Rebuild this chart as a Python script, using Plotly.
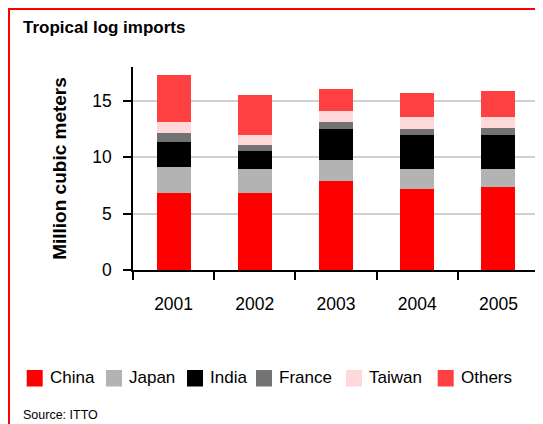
import plotly.graph_objects as go

years = ["2001", "2002", "2003", "2004", "2005"]
china = [6.83, 6.83, 7.90, 7.19, 7.36]
japan = [2.31, 2.13, 1.86, 1.77, 1.60]
india = [2.22, 1.60, 2.75, 3.02, 3.02]
france = [0.80, 0.53, 0.62, 0.53, 0.62]
taiwan = [0.97, 0.89, 0.97, 1.07, 0.98]
others = [4.17, 3.55, 1.96, 2.12, 2.30]

names = ["China", "Japan", "India", "France", "Taiwan", "Others"]
values = [china, japan, india, france, taiwan, others]
colors = ["#ff0000", "#b3b3b3", "#000000", "#737373", "#ffd9d9", "#ff4040"]

# figure is shown with an 8px page offset; geometry in figure pixels
W, H = 543, 424
L, R, T, B = 125, 531, 59, 262


def px(x):
    return (x - L) / (R - L)


def py(y):
    return (B - y) / (B - T)


fig = go.Figure()
for name, vals, col in zip(names, values, colors):
    fig.add_trace(go.Bar(x=years, y=vals, name=name, marker_color=col,
                         marker_line_width=0, showlegend=False))

font = "Liberation Sans, Arial, sans-serif"

shapes = [
    dict(type="rect", xref="paper", yref="paper", x0=px(1), x1=px(W - 1),
         y0=py(1), y1=py(H - 1), line=dict(color="#ff0000", width=2)),
]
annotations = [
    dict(text="<b>Tropical log imports</b>", xref="paper", yref="paper",
         x=px(13), y=py(20), xanchor="left", yanchor="middle",
         showarrow=False, font=dict(size=17, family=font)),
    dict(text="Source: ITTO", xref="paper", yref="paper",
         x=px(13.5), y=py(407), xanchor="left", yanchor="middle",
         showarrow=False, font=dict(size=12.5, family=font)),
]

# manual legend
sq_x = [18.7, 98, 179, 248, 338, 429.7]
for name, col, sx in zip(names, colors, sq_x):
    shapes.append(dict(type="rect", xref="paper", yref="paper",
                       x0=px(sx), x1=px(sx + 16), y0=py(362), y1=py(378.5),
                       fillcolor=col, line=dict(width=0)))
    annotations.append(dict(text=name, xref="paper", yref="paper",
                            x=px(sx + 21), y=py(369), xanchor="left",
                            yanchor="middle", showarrow=False,
                            font=dict(size=17, family=font)))

fig.update_layout(
    width=W, height=H,
    barmode="stack", bargap=0.58,
    plot_bgcolor="white", paper_bgcolor="white",
    margin=dict(l=L, r=W - R, t=T, b=H - B, autoexpand=False),
    font=dict(family=font, color="black"),
    showlegend=False,
    xaxis=dict(showline=True, linecolor="black", linewidth=1.5,
               ticks="outside", ticklen=8, tickcolor="black", tickwidth=1.5,
               tickson="boundaries", tickfont=dict(size=17.5),
               ticklabelstandoff=17, showgrid=False),
    yaxis=dict(range=[0, 18], tickvals=[0, 5, 10, 15], showline=True,
               linecolor="black", linewidth=1.5, ticks="outside", ticklen=8,
               tickcolor="black", tickwidth=1.5,
               tickfont=dict(size=17.5), ticklabelstandoff=8,
               showgrid=True, gridcolor="#d0d0d0", gridwidth=1.5,
               zeroline=False,
               title=dict(text="<b>Million cubic meters</b>",
                          font=dict(size=19), standoff=21)),
    shapes=shapes,
    annotations=annotations,
)

fig.write_html("out.html")
